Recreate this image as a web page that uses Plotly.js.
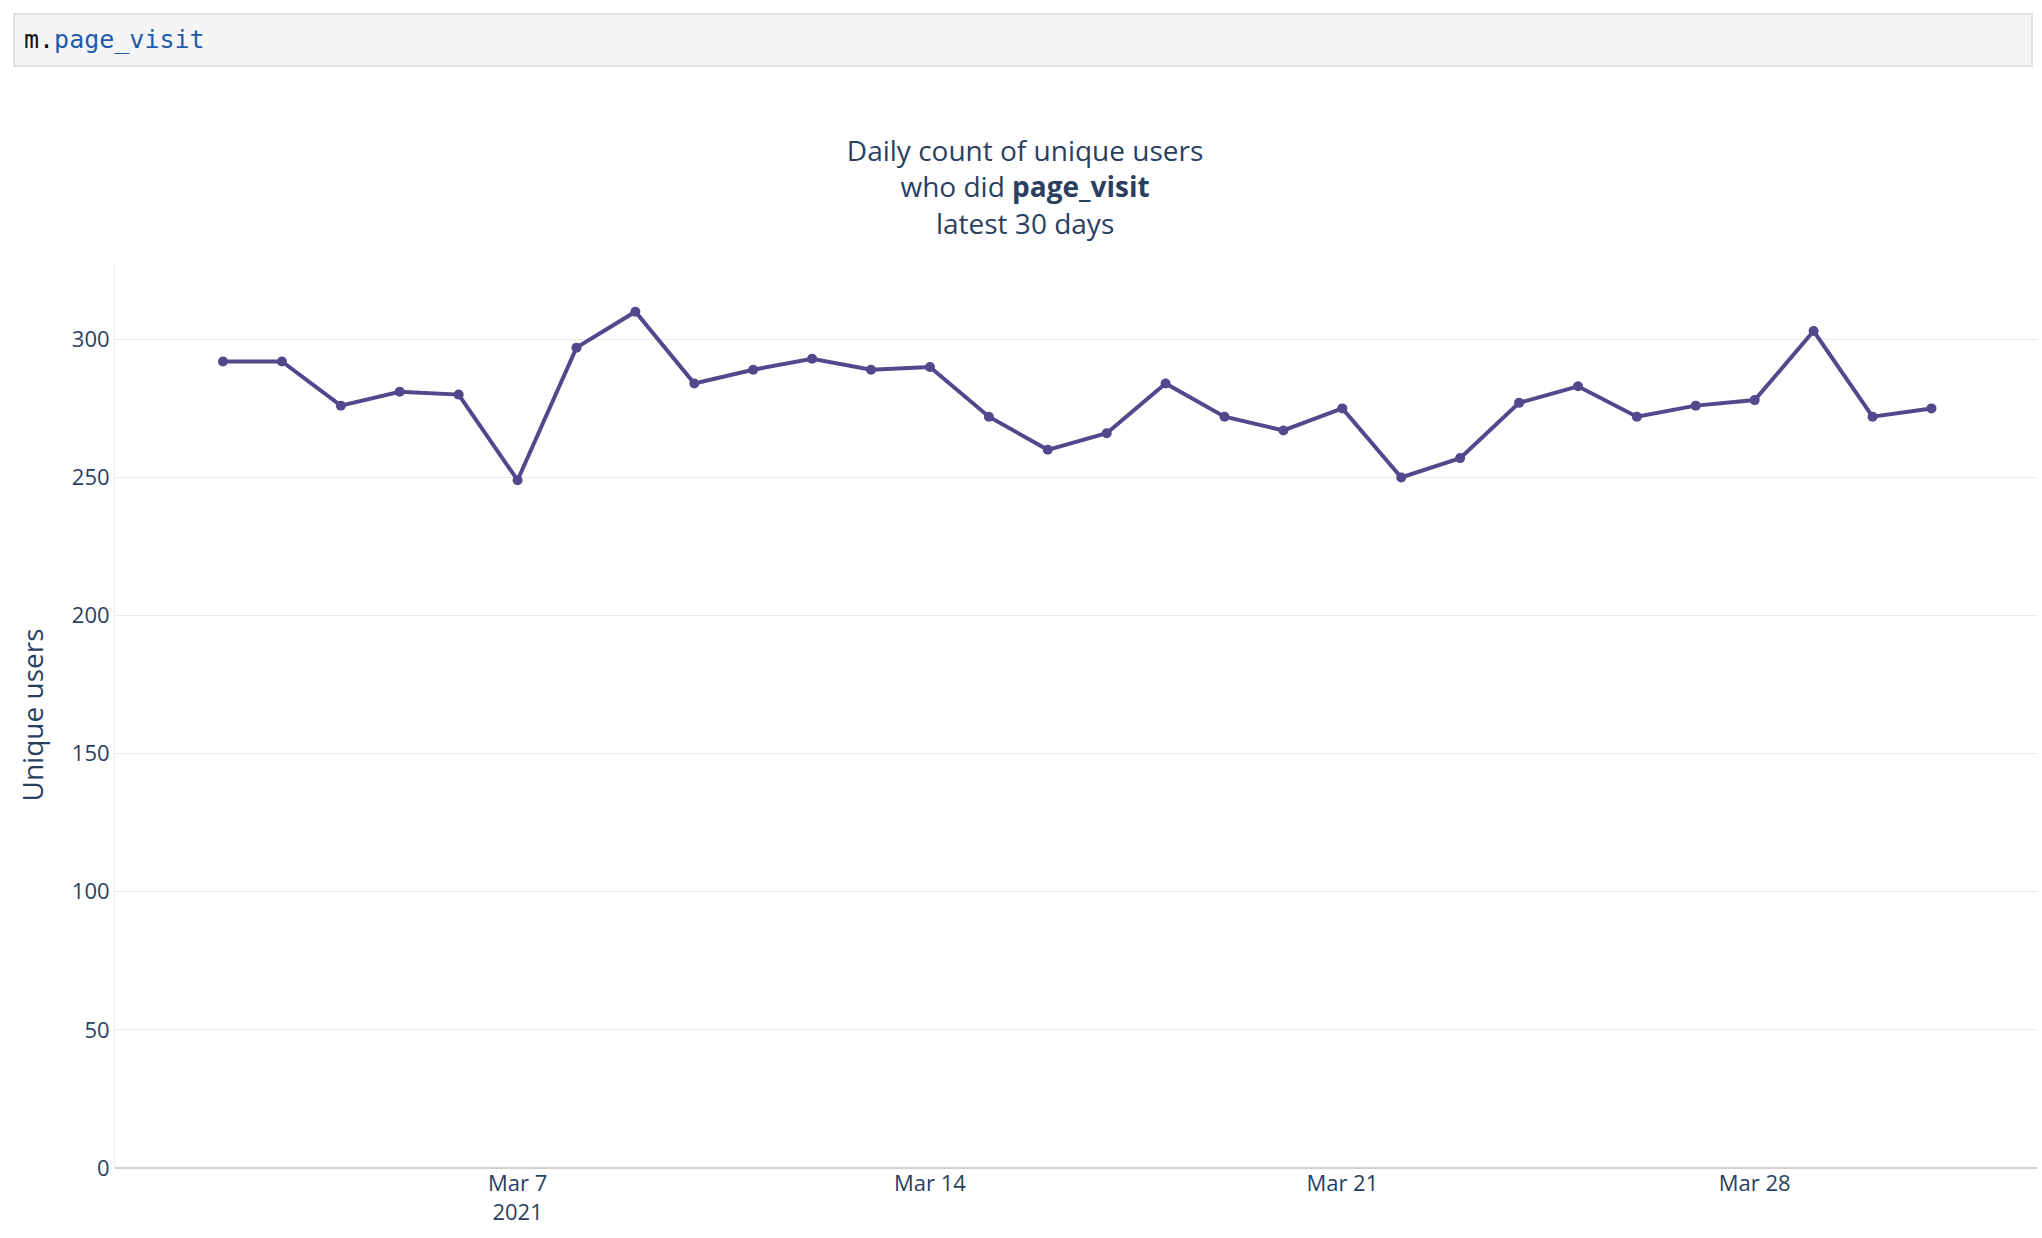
<!DOCTYPE html>
<html>
<head>
<script src="https://cdn.plot.ly/plotly-3.0.1.min.js"></script>
<style>
body { margin: 0; background: #fff; }
#code {
  position: absolute; left: 13px; top: 13px; width: 2020px; height: 54px;
  background: #f5f5f5; border: 2px solid #e0e0e0; box-sizing: border-box;
  font-family: "DejaVu Sans Mono", monospace; font-size: 25px;
  line-height: 50px; padding-left: 9px; color: #111;
}
#code span { color: #1f5bab; }
#chart { position: absolute; left: 0; top: 0; width: 2042px; height: 1238px; }
</style>
</head>
<body>
<div id="chart"></div>
<div id="code">m.<span>page_visit</span></div>
<script>
const dates = ["2021-03-02","2021-03-03","2021-03-04","2021-03-05","2021-03-06","2021-03-07",
  "2021-03-08","2021-03-09","2021-03-10","2021-03-11","2021-03-12","2021-03-13","2021-03-14",
  "2021-03-15","2021-03-16","2021-03-17","2021-03-18","2021-03-19","2021-03-20","2021-03-21",
  "2021-03-22","2021-03-23","2021-03-24","2021-03-25","2021-03-26","2021-03-27","2021-03-28",
  "2021-03-29","2021-03-30","2021-03-31"];
const users = [292,292,276,281,280,249,297,310,284,289,293,289,290,272,260,266,284,272,267,275,
  250,257,277,283,272,276,278,303,272,275];

Plotly.newPlot('chart', [{
  x: dates, y: users, type: 'scatter', mode: 'lines+markers',
  line: {color: 'rgb(84,71,140)', width: 4},
  marker: {color: 'rgb(84,71,140)', size: 10}
}], {
  width: 2042, height: 1238,
  margin: {l: 115, r: 5, t: 262, b: 70},
  paper_bgcolor: '#fff', plot_bgcolor: '#fff',
  font: {family: '"Open Sans", sans-serif', color: '#2a3f5f', size: 22},
  title: {text: 'Daily count of unique users<br>who did <b>page_visit</b><br>latest 30 days',
    x: 0.502, xanchor: 'center', y: 0.87, yanchor: 'middle', font: {size: 28}},
  showlegend: false,
  xaxis: {type: 'date', range: ['2021-02-28 04:00', '2021-04-01 19:00'],
    showgrid: false, ticks: '', tickfont: {size: 22},
    tickvals: ['2021-03-07','2021-03-14','2021-03-21','2021-03-28'],
    ticktext: ['Mar 7<br>2021','Mar 14','Mar 21','Mar 28']},
  yaxis: {range: [0, 328], dtick: 50, gridcolor: '#ebebeb', gridwidth: 1,
    zeroline: true, zerolinecolor: '#cfcfcf', zerolinewidth: 2,
    showline: true, linecolor: '#ebebeb', linewidth: 1, ticks: '',
    title: {text: 'Unique users', font: {size: 28}, standoff: 20}}
}, {displayModeBar: false});
</script>
</body>
</html>
